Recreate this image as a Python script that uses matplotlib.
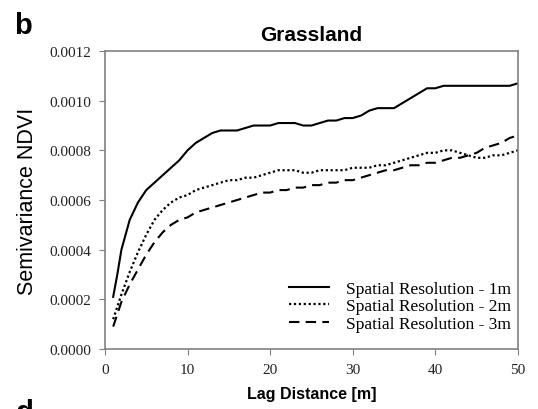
import numpy as np
import matplotlib
matplotlib.use("Agg")
from matplotlib import pyplot as plt

# lag distance [m]
lag = [1, 1.5, 2, 3, 4, 5, 6, 7, 8, 9, 10, 11, 12, 13, 14, 15, 16, 17, 18, 19, 20,
       21, 22, 23, 24, 25, 26, 27, 28, 29, 30, 31, 32, 33, 34, 35, 36, 37, 38, 39, 40,
       41, 42, 43, 44, 45, 46, 47, 48, 49, 50]

# semivariance NDVI, 1m resolution
res_1m = [0.00021, 0.00030, 0.00040, 0.00052, 0.00059, 0.00064, 0.00067, 0.00070, 0.00073,
          0.00076, 0.00080, 0.00083, 0.00085, 0.00087, 0.00088, 0.00088, 0.00088, 0.00089,
          0.00090, 0.00090, 0.00090, 0.00091, 0.00091, 0.00091, 0.00090, 0.00090, 0.00091,
          0.00092, 0.00092, 0.00093, 0.00093, 0.00094, 0.00096, 0.00097, 0.00097, 0.00097,
          0.00099, 0.00101, 0.00103, 0.00105, 0.00105, 0.00106, 0.00106, 0.00106, 0.00106,
          0.00106, 0.00106, 0.00106, 0.00106, 0.00106, 0.00107]

# 2m resolution
res_2m = [0.00012, 0.00017, 0.00022, 0.00031, 0.00039, 0.00046, 0.00052, 0.00056, 0.00059,
          0.00061, 0.00062, 0.00064, 0.00065, 0.00066, 0.00067, 0.00068, 0.00068, 0.00069,
          0.00069, 0.00070, 0.00071, 0.00072, 0.00072, 0.00072, 0.00071, 0.00071, 0.00072,
          0.00072, 0.00072, 0.00072, 0.00073, 0.00073, 0.00073, 0.00074, 0.00074, 0.00075,
          0.00076, 0.00077, 0.00078, 0.00079, 0.00079, 0.00080, 0.00080, 0.00079, 0.00078,
          0.00077, 0.00077, 0.00078, 0.00078, 0.00079, 0.00080]

# 3m resolution
res_3m = [0.00009, 0.00014, 0.00019, 0.00026, 0.00032, 0.00038, 0.00043, 0.00047, 0.00050,
          0.00052, 0.00053, 0.00055, 0.00056, 0.00057, 0.00058, 0.00059, 0.00060, 0.00061,
          0.00062, 0.00063, 0.00063, 0.00064, 0.00064, 0.00065, 0.00065, 0.00066, 0.00066,
          0.00067, 0.00067, 0.00068, 0.00068, 0.00069, 0.00070, 0.00071, 0.00072, 0.00072,
          0.00073, 0.00074, 0.00074, 0.00075, 0.00075, 0.00076, 0.00077, 0.00077, 0.00078,
          0.00079, 0.00081, 0.00082, 0.00083, 0.00085, 0.00086]

labels = ["Spatial Resolution - 1m", "Spatial Resolution - 2m", "Spatial Resolution - 3m"]
x_ticks = [0, 10, 20, 30, 40, 50]
y_ticks = [0.0, 0.0002, 0.0004, 0.0006, 0.0008, 0.0010, 0.0012]

fig = plt.figure(figsize=(5.38, 4.10), dpi=100)
ax = fig.add_axes([0.195, 0.1463, 0.7677, 0.7268])

ax.plot(lag, res_1m, color='black', lw=1.5, ls='-', label=labels[0])
ax.plot(lag, res_2m, color='black', lw=1.6, ls=(0, (1, 1.2)), label=labels[1])
ax.plot(lag, res_3m, color='black', lw=1.5, ls=(0, (5, 3)), label=labels[2])

ax.set_xlim(0, 50)
ax.set_ylim(0, 0.0012)
ax.set_xticks(x_ticks)
ax.set_yticks(y_ticks)
ax.set_xticklabels([str(t) for t in x_ticks], family='Liberation Serif', fontsize=11)
ax.set_yticklabels(["%.4f" % t for t in y_ticks], family='Liberation Serif', fontsize=11)
ax.tick_params(direction='out', length=4, color='#808080', pad=6, labelcolor='#222222')

for s in ax.spines.values():
    s.set_color('#808080')
    s.set_linewidth(1.2)

ax.set_title("Grassland", family='Liberation Sans', fontsize=15, weight='bold', pad=8)
ax.set_xlabel("Lag Distance [m]", family='Liberation Sans', fontsize=11.5, weight='bold', labelpad=7)
ax.set_ylabel("Semivariance NDVI", family='Liberation Sans', fontsize=15.5, labelpad=8)

ax.legend(loc='lower right', bbox_to_anchor=(1.0, 0.035), frameon=False,
          prop={'family': 'Liberation Serif', 'size': 12.5},
          handlelength=2.3, handletextpad=1.0, labelspacing=0.06, borderaxespad=0.0,
          borderpad=0.4)

fig.text(0.026, 1 - 12 / 410, 'b', va='top', ha='left', family='Liberation Sans',
         fontsize=21, weight='bold')
fig.text(0.03, 1 - 399 / 410, 'd', va='top', ha='left', family='Liberation Sans',
         fontsize=21, weight='bold')

fig.savefig('out.png', dpi=100)
